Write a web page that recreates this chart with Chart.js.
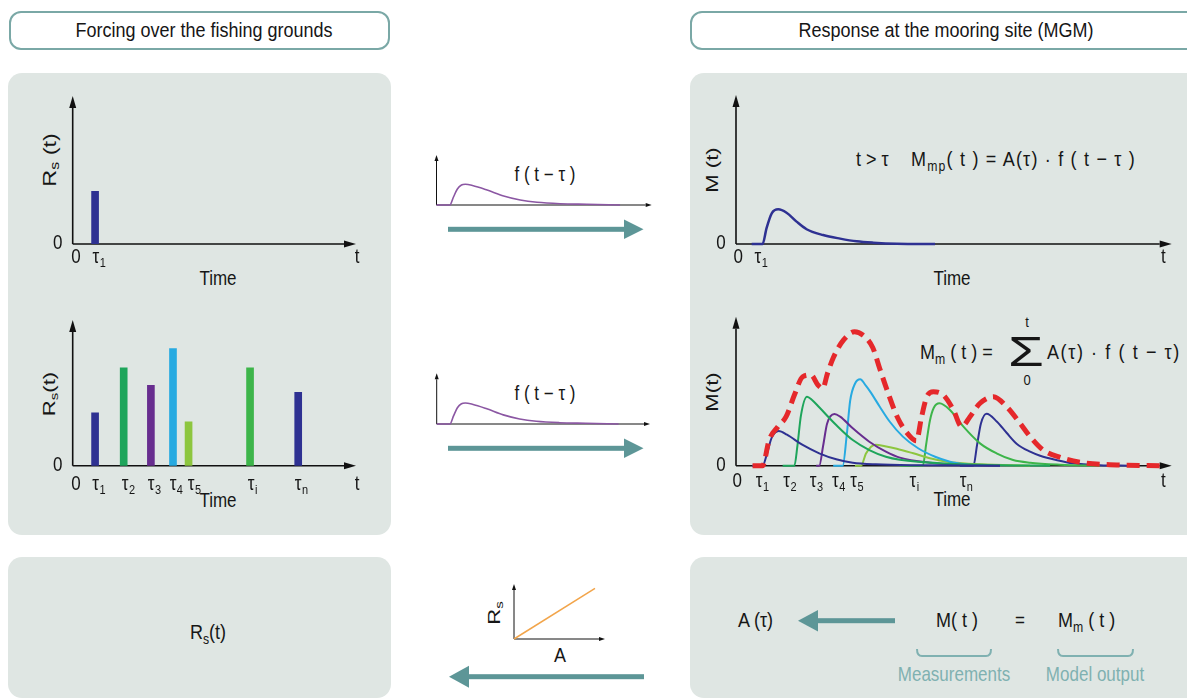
<!DOCTYPE html>
<html>
<head>
<meta charset="utf-8">
<script src="https://cdn.jsdelivr.net/npm/chart.js@4.4.1/dist/chart.umd.min.js"></script>
<style>
  body { margin: 0; width: 1187px; height: 700px; position: relative; overflow: hidden; background: #fff;
         font-family: "Liberation Sans", Arial, sans-serif; color: #161616; }
  .hdr { position: absolute; box-sizing: border-box; border: 2px solid #7aa8a6; border-radius: 12px; background: #fff; height: 39px; top: 11px; }
  .panel { position: absolute; background: #dfe6e3; border-radius: 14px; }
  canvas { position: absolute; }
  .C { position: absolute; white-space: nowrap; transform: translate(-50%, -50%) scaleY(1.15); font-size: 17px; }
  .L { position: absolute; white-space: nowrap; transform: translateY(-50%) scaleY(1.15); font-size: 17px; }
  .R { position: absolute; white-space: nowrap; transform: translate(-50%, -50%) scaleY(1.3) rotate(-90deg); font-size: 17px; }
  sub { font-size: 0.68em; vertical-align: -0.3em; line-height: 0; }
  .note { color: #7fb1b1; }
  svg { position: absolute; left: 0; top: 0; }
</style>
</head>
<body>
<div class="hdr" style="left:9px;width:381px"></div>
<div class="hdr" style="left:690px;width:530px"></div>
<div class="panel" style="left:8px;top:73px;width:383px;height:462px"></div>
<div class="panel" style="left:690px;top:73px;width:530px;height:462px"></div>
<div class="panel" style="left:8px;top:557px;width:383px;height:141px"></div>
<div class="panel" style="left:690px;top:557px;width:530px;height:141px"></div>

<svg width="1187" height="700">
  <g fill="#5d9697">
    <rect x="448" y="226.8" width="178" height="5"/>
    <polygon points="624,219.5 643.5,229.3 624,239.1"/>
    <rect x="448" y="445.8" width="178" height="5"/>
    <polygon points="624,438.5 643.5,448.3 624,458.1"/>
    <rect x="466" y="674.2" width="178" height="5"/>
    <polygon points="469,665.7 449,676.7 469,687.7"/>
    <rect x="815" y="618.2" width="80" height="5"/>
    <polygon points="818,610 798,620.7 818,631.4"/>
  </g>
  <g fill="none" stroke="#7fb1b1" stroke-width="2">
    <path d="M917 649 Q917 656 922 656 L986 656 Q991 656 991 649"/>
    <path d="M1058 649 Q1058 656 1063 656 L1128 656 Q1133 656 1133 649"/>
  </g>
</svg>

<div class="C" style="left:204px;top:31px;font-size:18px">Forcing over the fishing grounds</div>
<div class="C" style="left:946px;top:31px;font-size:18px">Response at the mooring site (MGM)</div>

<div class="R" style="left:50px;top:160px;font-size:18px">R<sub>s</sub> (t)</div>
<div class="C" style="left:218px;top:279px">Time</div>
<div class="R" style="left:50px;top:394px">R<sub>s</sub>(t)</div>
<div class="C" style="left:218px;top:501px">Time</div>

<div class="R" style="left:713px;top:170px">M (t)</div>
<div class="C" style="left:952px;top:279px">Time</div>
<div class="R" style="left:713px;top:392px">M(t)</div>
<div class="C" style="left:952px;top:500px">Time</div>

<div class="L" style="left:856px;top:160px;font-size:18px">t &gt; τ</div>
<div class="L" style="left:911px;top:160px;font-size:18px;letter-spacing:1.2px">M<sub>mp</sub>( t ) = A(τ) · f ( t − τ )</div>
<div class="L" style="left:920px;top:353px;font-size:18px">M<sub>m</sub> ( t ) =</div>
<div class="C" style="left:1026px;top:352px;font-size:40px;transform:translate(-50%,-50%) scale(1.45,1.05)">Σ</div>
<div class="C" style="left:1027px;top:322px;font-size:13px">t</div>
<div class="C" style="left:1027px;top:380px;font-size:13px">0</div>
<div class="L" style="left:1047px;top:353px;font-size:18px;letter-spacing:1.6px">A(τ) · f ( t − τ)</div>

<div class="C" style="left:545px;top:175px">f ( t − τ )</div>
<div class="C" style="left:545px;top:394px">f ( t − τ )</div>

<div class="C" style="left:208px;top:633px;font-size:18px">R<sub>s</sub>(t)</div>
<div class="R" style="left:495px;top:613px">R<sub>s</sub></div>
<div class="C" style="left:560px;top:656px;font-size:18px">A</div>

<div class="L" style="left:738px;top:621px;font-size:18px">A (τ)</div>
<div class="L" style="left:936px;top:621px;font-size:18px">M( t )</div>
<div class="C" style="left:1020px;top:621px">=</div>
<div class="L" style="left:1058px;top:621px;font-size:18px">M<sub>m</sub> ( t )</div>
<div class="C note" style="left:954px;top:675px">Measurements</div>
<div class="C note" style="left:1095px;top:675px">Model output</div>

<script>
// forcing: single event (top left)
const singleTimes = [7.9];
const singleRs = [35.6];
const singleTickPos = [1.2, 8.2, 100.4];
const singleTickLabels = ['0', 'τ1', 't'];

// forcing: several events (middle left)
const eventTimes = [7.9, 18.0, 27.6, 35.4, 40.9, 62.6, 79.6];
const eventRs = [36.3, 67.1, 55.1, 80.4, 30.1, 67.1, 50.3];
const eventColors = ['#2e3192', '#1ea55b', '#672d8f', '#27aae1', '#8dc63f', '#3db54a', '#2e3192'];
const eventTickPos = [1.2, 8.1, 18.5, 27.7, 35.4, 41.8, 63.0, 79.6, 100.4];
const eventTickLabels = ['0', 'τ1', 'τ2', 'τ3', 'τ4', 'τ5', 'τi', 'τn', 't'];

// response to one event (top right)
const respSingle = [[3.6, 0], [6.1, 0], [7.0, 10.5], [8.2, 20.6], [9.7, 23.3], [11.6, 21], [13.9, 15], [16.2, 9.9],
  [20.0, 6], [23.9, 3.6], [27.7, 1.8], [31.5, 0.9], [36.9, 0.2], [45.7, 0]];
const respSingleTickPos = [0.5, 5.0, 98.1];
const respSingleTickLabels = ['0', 'τ1', 't'];

// responses to each event (middle right)
const respTau1 = [[3.7, 0], [6.1, 0], [7.1, 8], [8.2, 18.8], [9.8, 23.3], [11.7, 20.8], [15.3, 13.9], [19.1, 8.3],
  [23.0, 4.3], [26.8, 2.0], [32.1, 0.9], [42.2, 0.3], [60.6, 0]];
const respTau2 = [[10.7, 0], [13.4, 0], [14.1, 13.4], [14.9, 33.6], [16.3, 46.3], [17.4, 44.3], [19.1, 39.2], [23.0, 27.3],
  [26.8, 17.2], [30.6, 10.5], [34.4, 6.0], [37.6, 4.0], [49.1, 1.3], [60.6, 0.3], [72.1, 0]];
const respTau3 = [[18.4, 0], [19.1, 0], [20.0, 13.4], [20.9, 28.2], [22.6, 34.7], [23.9, 32.9], [26.8, 25.1], [30.6, 16.1],
  [34.4, 9.4], [37.6, 5.4], [44.5, 2.0], [51.4, 0.7], [60.6, 0]];
const respTau4 = [[22.3, 0], [24.5, 0], [25.4, 20.1], [26.2, 43.6], [27.3, 55], [28.5, 58], [29.8, 53.7], [30.8, 49.7],
  [33.0, 39.6], [35.3, 29.5], [38.3, 19.5], [41.8, 11.7], [45.7, 6], [49.1, 2.7], [52.6, 0.9], [56, 0]];
const respTau5 = [[27.3, 0], [28.7, 0], [29.8, 8], [31.0, 12.8], [32.1, 14.1], [34.2, 13.1], [36.9, 11.4], [40.7, 8.3],
  [44.5, 5.0], [48.4, 2.7], [56, 0.9], [67.5, 0]];
const respTauI = [[37.6, 0], [42.9, 0], [43.6, 13.4], [44.5, 30.2], [45.4, 38.9], [46.7, 41.9], [49.1, 37.4], [52.2, 26.2],
  [56.0, 15.0], [59.8, 8.3], [63.6, 3.8], [67.5, 2.0], [74.4, 0.7], [83.5, 0]];
const respTauN = [[51.4, 0], [54.5, 0], [55.3, 13.4], [56.2, 28.2], [57.5, 34.9], [59.9, 29.5], [62.1, 22.1], [64.4, 14.8],
  [67.5, 9.4], [69.8, 6.7], [73.7, 3.7], [77.3, 1.6], [83.5, 0.3], [90.4, 0]];
const modelSum = [[3.8, 0], [6.1, 0], [7.6, 17.2], [9.6, 26.2], [11.5, 32.9], [13.4, 47.4], [15.3, 59.7], [17.2, 60.9],
  [18.8, 54.2], [19.9, 51.9], [21.0, 62], [22.4, 73], [24.7, 84.4], [27.2, 89.9], [29.1, 87.7], [31.4, 79.2],
  [33.0, 65.1], [34.8, 49.7], [37.1, 32.2], [39.4, 21.5], [41.4, 16.8], [42.6, 32.9], [43.8, 46.3], [45.3, 49.7],
  [47.6, 47.4], [49.9, 37.4], [51.8, 26.2], [53.7, 32.9], [56.0, 41.9], [59.1, 46.3], [62.1, 39.6], [65.2, 28.5],
  [67.5, 19.5], [70.5, 10.5], [74.4, 5.6], [79.6, 2.0], [87.4, 0.5], [97.3, 0]];
const respColors = ['#2e3192', '#1ea55b', '#672d8f', '#27aae1', '#8dc63f', '#3db54a', '#2e3192'];
const respTickPos = [0.3, 5.3, 11.6, 17.7, 22.8, 27.0, 40.6, 52.1, 98.1];
const respTickLabels = ['0', 'τ1', 'τ2', 'τ3', 'τ4', 'τ5', 'τi', 'τn', 't'];

// transfer function f(t - tau)
const kernel = [[0, 0], [6.2, 0], [7.9, 16], [9.7, 32], [11.6, 40], [13.4, 41.4], [16.7, 39], [23.5, 30], [31.2, 18],
  [38.9, 10], [46.7, 5.4], [57.5, 2.6], [69.9, 1.4], [85.3, 0]];

// Rs versus A
const aVals = [0, 89];
const rsVals = [0, 92];

const FONT = '"Liberation Sans", Arial, sans-serif';

const axisSpec = {
  rsOne:   { lw: 1.6, head: 12, half: 3.5, size: 17, dy: 13.5, pos: singleTickPos, labels: singleTickLabels, zero: true },
  rsMany:  { lw: 1.6, head: 12, half: 3.5, size: 17, dy: 19, pos: eventTickPos, labels: eventTickLabels, zero: true },
  mOne:    { lw: 1.6, head: 12, half: 3.5, size: 17, dy: 14, pos: respSingleTickPos, labels: respSingleTickLabels, zero: true },
  mMany:   { lw: 1.6, head: 12, half: 3.5, size: 17, dy: 16, pos: respTickPos, labels: respTickLabels, zero: true },
  kern1:   { lw: 1, head: 6, half: 2, pos: [], labels: [] },
  kern2:   { lw: 1, head: 6, half: 2, pos: [], labels: [] },
  linear:  { lw: 1, head: 6, half: 2, pos: [], labels: [] }
};

function drawLabel(ctx, text, x, y, size) {
  ctx.save();
  ctx.translate(x, y);
  ctx.scale(1, 1.15);
  ctx.font = size + 'px ' + FONT;
  ctx.textBaseline = 'middle';
  ctx.fillStyle = '#161616';
  if (text[0] === 'τ' && text.length > 1) {
    ctx.textAlign = 'center';
    ctx.fillText('τ', 0, 0);
    const w = ctx.measureText('τ').width;
    ctx.font = Math.round(size * 0.62) + 'px ' + FONT;
    ctx.textAlign = 'left';
    ctx.fillText(text.slice(1), w / 2 + 0.5, size * 0.3);
  } else {
    ctx.textAlign = 'center';
    ctx.fillText(text, 0, 0);
  }
  ctx.restore();
}

const arrowAxes = {
  id: 'arrowAxes',
  beforeDatasetsDraw(chart) {
    const o = axisSpec[chart.canvas.id];
    const { ctx, chartArea: a } = chart;
    ctx.save();
    ctx.strokeStyle = '#111';
    ctx.fillStyle = '#111';
    ctx.lineWidth = o.lw;
    ctx.beginPath();
    ctx.moveTo(a.left, a.bottom);
    ctx.lineTo(a.right - o.head, a.bottom);
    ctx.moveTo(a.left, a.bottom);
    ctx.lineTo(a.left, a.top + o.head);
    ctx.stroke();
    ctx.beginPath();
    ctx.moveTo(a.right, a.bottom);
    ctx.lineTo(a.right - o.head, a.bottom - o.half);
    ctx.lineTo(a.right - o.head, a.bottom + o.half);
    ctx.fill();
    ctx.beginPath();
    ctx.moveTo(a.left, a.top);
    ctx.lineTo(a.left - o.half, a.top + o.head);
    ctx.lineTo(a.left + o.half, a.top + o.head);
    ctx.fill();
    ctx.restore();
    const xs = chart.scales.x;
    o.pos.forEach((v, i) => drawLabel(ctx, o.labels[i], xs.getPixelForValue(v), a.bottom + o.dy, o.size));
    if (o.zero) drawLabel(ctx, '0', a.left - 15, a.bottom, o.size);
  }
};

function makeChart(id, box, area, config) {
  const c = document.createElement('canvas');
  c.id = id;
  c.width = box.w;
  c.height = box.h;
  c.style.left = box.x + 'px';
  c.style.top = box.y + 'px';
  document.body.appendChild(c);
  config.options = {
    responsive: false,
    animation: false,
    events: [],
    layout: { padding: { left: area.x0 - box.x, right: box.x + box.w - area.x1, top: area.y1 - box.y, bottom: box.y + box.h - area.y0 } },
    plugins: { legend: { display: false }, tooltip: { enabled: false } },
    scales: {
      x: { type: 'linear', min: 0, max: 100, display: false, offset: false },
      y: { type: 'linear', min: 0, max: 100, display: false }
    }
  };
  config.plugins = [arrowAxes];
  return new Chart(c, config);
}

function pts(list) {
  return list.map(p => ({ x: p[0], y: p[1] }));
}

function curve(list, color, width) {
  return {
    data: pts(list), borderColor: color, borderWidth: width, pointRadius: 0,
    cubicInterpolationMode: 'monotone', fill: false, clip: false
  };
}

window.onload = function () {
  makeChart('rsOne', { x: 30, y: 85, w: 350, h: 200 }, { x0: 72.7, x1: 356, y0: 244, y1: 96 }, {
    type: 'bar',
    data: { datasets: [{ data: singleTimes.map((t, i) => ({ x: t, y: singleRs[i] })), backgroundColor: '#2e3192', barThickness: 7 }] }
  });

  makeChart('rsMany', { x: 30, y: 305, w: 350, h: 205 }, { x0: 72.7, x1: 356, y0: 465.7, y1: 320 }, {
    type: 'bar',
    data: { datasets: [{ data: eventTimes.map((t, i) => ({ x: t, y: eventRs[i] })), backgroundColor: eventColors, barThickness: 7 }] }
  });

  makeChart('mOne', { x: 695, y: 85, w: 492, h: 200 }, { x0: 736, x1: 1171.7, y0: 244, y1: 95 }, {
    type: 'line',
    data: { datasets: [curve(respSingle, '#2e3192', 2.5)] }
  });

  const parts = [respTau1, respTau2, respTau3, respTau4, respTau5, respTauI, respTauN];
  const sum = curve(modelSum, '#e5282b', 5);
  sum.borderDash = [13, 7];
  sum.borderCapStyle = 'butt';
  makeChart('mMany', { x: 695, y: 305, w: 492, h: 205 }, { x0: 736, x1: 1171.7, y0: 465.7, y1: 316.7 }, {
    type: 'line',
    data: { datasets: [sum].concat(parts.map((p, i) => curve(p, respColors[i], 2))) }
  });

  makeChart('kern1', { x: 425, y: 145, w: 235, h: 70 }, { x0: 436.5, x1: 651.7, y0: 205, y1: 155 }, {
    type: 'line',
    data: { datasets: [curve(kernel, '#8b57a3', 1.6)] }
  });

  makeChart('kern2', { x: 425, y: 364, w: 235, h: 70 }, { x0: 436.7, x1: 650, y0: 424, y1: 373.3 }, {
    type: 'line',
    data: { datasets: [curve(kernel, '#8b57a3', 1.6)] }
  });

  makeChart('linear', { x: 505, y: 575, w: 110, h: 75 }, { x0: 514, x1: 605, y0: 639, y1: 584 }, {
    type: 'line',
    data: { datasets: [{ data: aVals.map((a, i) => ({ x: a, y: rsVals[i] })), borderColor: '#f2a54b', borderWidth: 1.5, pointRadius: 0, clip: false }] }
  });
};
</script>
</body>
</html>
